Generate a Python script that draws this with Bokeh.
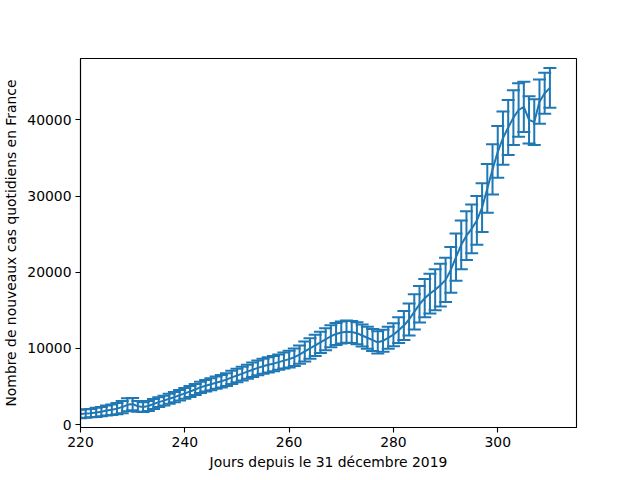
from bokeh.plotting import figure
from bokeh.models import ColumnDataSource, Whisker, TeeHead, Range1d, FixedTicker, BasicTickFormatter
from bokeh.embed import file_html
from bokeh.resources import INLINE

days = list(range(220, 311))
cases = [1400, 1450, 1500, 1600, 1700, 1850, 1950, 2100, 2300, 2600,
         2700, 2400, 2300, 2450, 2700, 2950, 3150, 3400, 3600, 3850,
         4100, 4350, 4600, 4900, 5100, 5300, 5500, 5700, 5900, 6200,
         6450, 6700, 6950, 7200, 7450, 7650, 7850, 8000, 8200, 8400,
         8600, 8850, 9200, 9600, 10000, 10400, 10800, 11200, 11600, 11900,
         12100, 12200, 12150, 12000, 11700, 11400, 11100, 10800, 11000, 11400,
         11800, 12400, 13000, 13800, 14800, 15800, 16600, 17200, 17700, 18300,
         19000, 20300, 22000, 23600, 24800, 25700, 26800, 28500, 31000, 33500,
         35800, 37600, 39000, 40300, 41300, 41700, 40000, 39700, 42400, 43500,
         44200]
errors = [550, 550, 550, 600, 600, 650, 700, 750, 800, 850,
          800, 700, 650, 650, 650, 650, 650, 650, 680, 700,
          700, 710, 720, 740, 760, 780, 800, 820, 840, 860,
          880, 900, 920, 940, 960, 980, 1000, 1000, 1000, 1050,
          1100, 1150, 1200, 1300, 1350, 1400, 1400, 1450, 1450, 1450,
          1450, 1450, 1450, 1450, 1450, 1450, 1450, 1450, 1450, 1450,
          1500, 1700, 1900, 2100, 2300, 2400, 2500, 2600, 2700, 2800,
          2900, 3000, 3100, 3200, 3200, 3200, 3200, 3200, 3200, 3300,
          3400, 3500, 3600, 3600, 3500, 3300, 3100, 3000, 2900, 2700,
          2600]

x_ticks = [220, 240, 260, 280, 300]
y_ticks = [0, 10000, 20000, 30000, 40000]

BLUE = "#1f77b4"
FONT = "DejaVu Sans"
FS = "13.9px"

upper = [c + e for c, e in zip(cases, errors)]
lower = [c - e for c, e in zip(cases, errors)]
src = ColumnDataSource(dict(x=days, y=cases, upper=upper, lower=lower))

p = figure(width=640, height=480, output_backend="svg", toolbar_location=None,
           x_range=Range1d(220, 315.1), y_range=Range1d(-380, 48060),
           min_border_left=80, min_border_right=64, min_border_top=58, min_border_bottom=53)
p.grid.visible = False
p.outline_line_color = "black"
p.outline_line_width = 1.1

p.line("x", "y", source=src, line_color=BLUE, line_width=2.0)
w = Whisker(source=src, base="x", upper="upper", lower="lower",
            line_color=BLUE, line_width=2.0,
            upper_head=TeeHead(size=13, line_color=BLUE, line_width=2.0),
            lower_head=TeeHead(size=13, line_color=BLUE, line_width=2.0))
p.add_layout(w)

for ax in (p.xaxis[0], p.yaxis[0]):
    ax.major_label_text_font = FONT
    ax.major_label_text_font_size = FS
    ax.major_label_text_color = "black"
    ax.axis_label_text_font = FONT
    ax.axis_label_text_font_size = FS
    ax.axis_label_text_font_style = "normal"
    ax.axis_label_text_color = "black"
    ax.minor_tick_line_color = None
    ax.major_tick_in = 0
    ax.major_tick_out = 5
    ax.major_tick_line_color = "black"
    ax.major_tick_line_width = 1.1
    ax.axis_line_color = "black"
    ax.axis_line_width = 1.1
    ax.major_label_standoff = 4

p.xaxis.ticker = FixedTicker(ticks=x_ticks)
p.yaxis.ticker = FixedTicker(ticks=y_ticks)
p.yaxis.formatter = BasicTickFormatter(use_scientific=False)
p.xaxis.axis_label = "Jours depuis le 31 décembre 2019"
p.yaxis.axis_label = "Nombre de nouveaux cas quotidiens en France"
p.xaxis.axis_label_standoff = 4
p.yaxis.axis_label_standoff = 5

open("out.html", "w").write(file_html(p, INLINE))
